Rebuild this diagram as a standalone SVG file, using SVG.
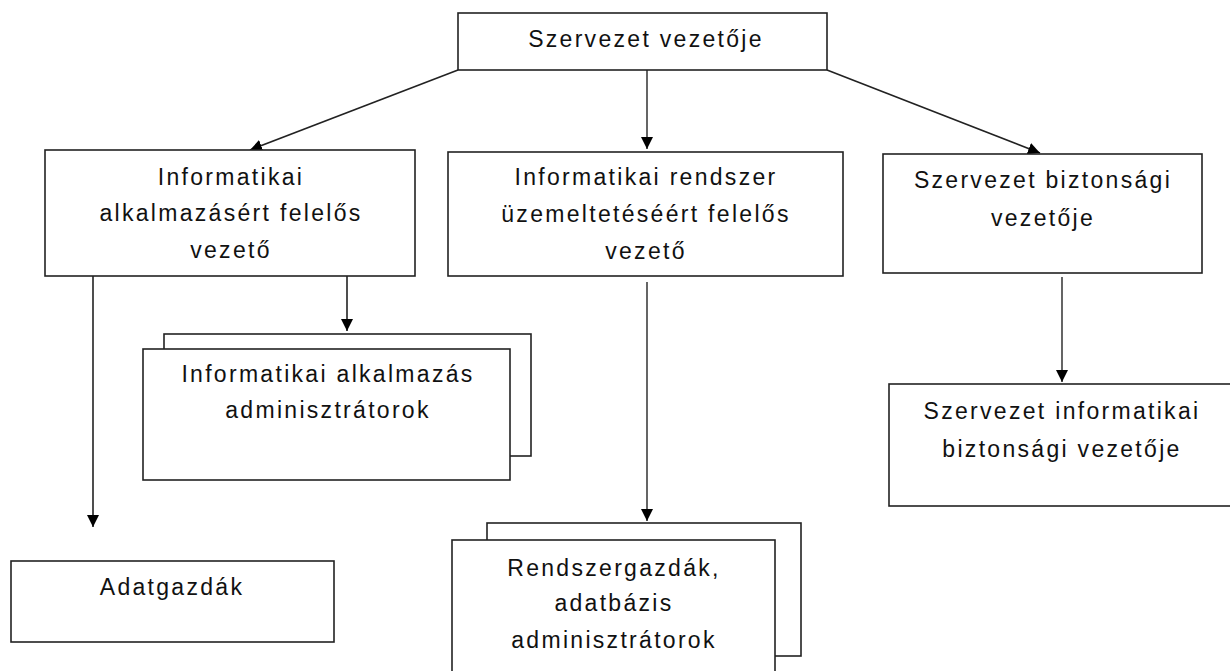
<svg xmlns="http://www.w3.org/2000/svg" width="1230" height="671" viewBox="0 0 1230 671">
<style>
.box{fill:#fff;stroke:#222;stroke-width:1.6}
.t{font-family:"Liberation Sans",Arial,sans-serif;font-size:23px;letter-spacing:2.3px;fill:#111;text-anchor:middle}
.c{fill:none;stroke:#222;stroke-width:1.6}
.g{fill:none;stroke:#555;stroke-width:1.8}
</style>
<defs>
<marker id="ah" markerWidth="14" markerHeight="14" refX="12" refY="6" orient="auto" markerUnits="userSpaceOnUse">
<path d="M0,0 L12,6 L0,12 Z" fill="#000"/>
</marker>
</defs>
<rect width="1230" height="671" fill="#fff"/>
<g id="connectors">
<line class="c" x1="458" y1="70" x2="250" y2="150" marker-end="url(#ah)"/>
<line class="g" x1="647" y1="70" x2="647" y2="149" marker-end="url(#ah)"/>
<line class="c" x1="827" y1="70" x2="1040" y2="153" marker-end="url(#ah)"/>
<line class="c" x1="347" y1="276" x2="347" y2="331" marker-end="url(#ah)"/>
<line class="c" x1="93" y1="276" x2="93" y2="527" marker-end="url(#ah)"/>
<line class="g" x1="647" y1="282" x2="647" y2="521" marker-end="url(#ah)"/>
<line class="g" x1="1062" y1="277" x2="1062" y2="382" marker-end="url(#ah)"/>
</g>
<g id="n-top">
<rect class="box" x="458" y="13" width="369" height="57"/>
<text class="t" x="646" y="47">Szervezet vezetője</text>
</g>
<g id="n-app-lead">
<rect class="box" x="45" y="150" width="370" height="126"/>
<text class="t" x="231" y="185">Informatikai</text>
<text class="t" x="231" y="221">alkalmazásért felelős</text>
<text class="t" x="231" y="258">vezető</text>
</g>
<g id="n-ops-lead">
<rect class="box" x="448" y="152" width="395" height="124"/>
<text class="t" x="646" y="185">Informatikai rendszer</text>
<text class="t" x="646" y="222">üzemeltetéséért felelős</text>
<text class="t" x="646" y="259">vezető</text>
</g>
<g id="n-sec-lead">
<rect class="box" x="883" y="154" width="319" height="119"/>
<text class="t" x="1043" y="188">Szervezet biztonsági</text>
<text class="t" x="1043" y="226">vezetője</text>
</g>
<g id="n-app-admins">
<rect class="box" x="164" y="334" width="367" height="122"/>
<rect class="box" x="143" y="349" width="367" height="131"/>
<text class="t" x="328" y="382">Informatikai alkalmazás</text>
<text class="t" x="328" y="418">adminisztrátorok</text>
</g>
<g id="n-it-sec">
<rect class="box" x="889" y="384" width="345" height="122"/>
<text class="t" x="1062" y="419">Szervezet informatikai</text>
<text class="t" x="1062" y="457">biztonsági vezetője</text>
</g>
<g id="n-data-owners">
<rect class="box" x="11" y="561" width="323" height="81"/>
<text class="t" x="172" y="595">Adatgazdák</text>
</g>
<g id="n-sysadmins">
<rect class="box" x="487" y="523" width="314" height="133"/>
<rect class="box" x="452" y="540" width="323" height="140"/>
<text class="t" x="614" y="576">Rendszergazdák,</text>
<text class="t" x="614" y="611">adatbázis</text>
<text class="t" x="614" y="648">adminisztrátorok</text>
</g>
</svg>
